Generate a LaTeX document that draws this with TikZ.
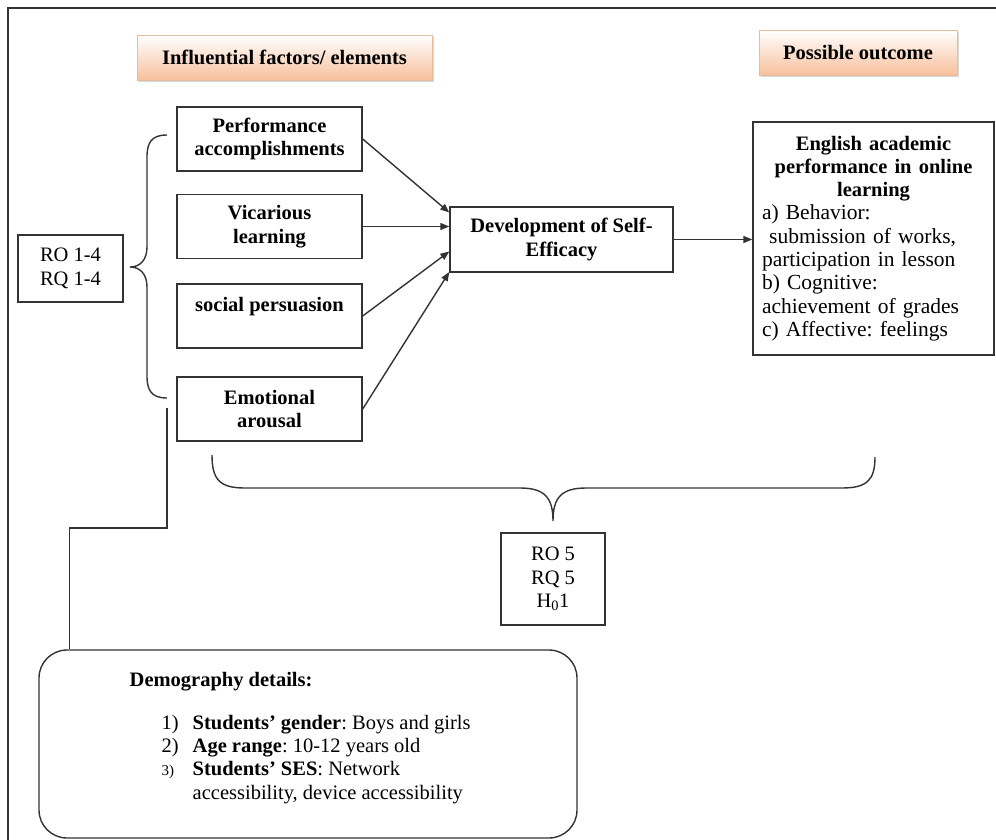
\documentclass[tikz,border=0pt]{standalone}
\usepackage{fontspec}
\setmainfont{Liberation Serif}
\usetikzlibrary{arrows.meta, shadows}
\definecolor{peach}{RGB}{247,192,156}
\definecolor{peachedge}{RGB}{228,190,162}
\def\linecolor{black!80}
\newcommand{\bigtext}{\fontsize{20.5}{23.3}\selectfont}
\newcommand{\outtext}{\fontsize{21.5}{23.3}\selectfont}
\frenchspacing

\begin{document}
\frenchspacing
\begin{tikzpicture}[x = 1pt, y = -1pt, line width = 1.4pt,
	box/.style = {draw = \linecolor, font = \bigtext, align = center, inner sep = 0pt},
	factor/.style = {box, minimum width = 185pt, minimum height = 64pt, font = \bigtext\bfseries},
	header/.style = {draw = peachedge, line width = 0.6pt, top color = white, bottom color = peach, drop shadow = {opacity = 0.3, shadow xshift = 1.5pt, shadow yshift = -2pt}, font = \bigtext\bfseries, minimum height = 45pt},
	arrow/.style = {draw = \linecolor, -{Triangle[length = 9pt, width = 7pt]}}]
		\useasboundingbox (0, 0) rectangle (996, 840);
		\draw[\linecolor] (8, 850) -- (8, 8) -- (1010, 8);
		\node[header, minimum width = 295pt] (infl) at (284.5, 57.5) {Influential factors/ elements};
		\node[header, minimum width = 198pt] (poss) at (858, 52.5) {Possible outcome};
		\node[box, minimum width = 105pt, minimum height = 67pt] (ro) at (70.5, 268.5) {RO 1-4\\RQ 1-4};
		\foreach \n/\t/\y in {perf/{Performance\\accomplishments}/139, vic/{Vicarious\\learning}/226.5, soc/{social persuasion\\\mbox{}}/316, emo/{Emotional\\arousal}/409}
			\node[factor] (\n) at (269.5, \y) {\t};
		\node[box, font = \bigtext\bfseries, minimum width = 223pt, minimum height = 65pt] (dev) at (561.5, 239.5) {Development of Self-\\Efficacy};
		\node[box, font = \outtext, minimum width = 241pt, minimum height = 233pt, text width = 223pt, align = left] (outc) at (873.5, 238.5) {{\centering\bigtext\bfseries English academic\\performance in online\\learning\par}a) Behavior:\\\ submission of works,\\participation in lesson\\b) Cognitive:\\achievement of grades\\c) Affective: feelings};
		\foreach \n/\s in {perf/27, vic/13, soc/-12, emo/-32.5}
			\draw[arrow] (\n.east) -- ([yshift = \s pt]dev.west);
		\draw[arrow] (dev.east) -- (dev.east -| outc.west);
		\draw[\linecolor] (167, 135) .. controls (152, 135) and (147, 142) .. (147, 157) -- (147, 247) .. controls (147, 260) and (140, 267) .. (130, 267) .. controls (140, 267) and (147, 274) .. (147, 287) -- (147, 376) .. controls (147, 391) and (152, 398) .. (167, 398);
		\draw[\linecolor] (212, 455) .. controls (212, 480) and (220, 488) .. (245, 488) -- (520, 488) .. controls (545, 488) and (553, 498) .. (553, 521) .. controls (553, 498) and (561, 488) .. (586, 488) -- (842, 488) .. controls (867, 488) and (875, 480) .. (875, 457);
		\node[box, minimum width = 104pt, minimum height = 92pt] (ro5) at (553, 579) {RO 5\\RQ 5\\H\textsubscript{0}1};
		\node[box, rounded corners = 28pt, minimum width = 538pt, minimum height = 188pt] (demo) at (308, 744) {};
		\node[anchor = north west, font = \bigtext, inner sep = 0pt] (demotext) at (129, 669) {\begin{tabular}{@{}p{32pt}@{}p{31pt}@{}l@{}}
			\multicolumn{3}{@{}l@{}}{\textbf{Demography details:}}\\[20pt]
			& 1) & \textbf{Students' gender}: Boys and girls\\
			& 2) & \textbf{Age range}: 10-12 years old\\
			& {\fontsize{15}{18}\selectfont 3)} & \textbf{Students' SES}: Network\\
			& & accessibility, device accessibility
		\end{tabular}};
		\coordinate (emolink) at (167, 408);
		\draw[\linecolor] (emolink) -- (167, 528) -| ([xshift = 31pt]demo.north west);
	\end{tikzpicture}
\end{document}
